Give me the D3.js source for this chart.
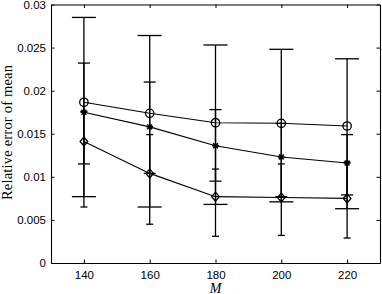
<!DOCTYPE html>
<html lang="en">
<head>
    <meta charset="UTF-8">
    <title>Relative error of mean vs M</title>
    <script src="https://cdnjs.cloudflare.com/ajax/libs/d3/7.8.5/d3.min.js"></script>
    <style>
        body { margin: 0; padding: 0; background: #fff; }
        svg { display: block; }
        .tick text { font-family: "Liberation Sans", Arial, sans-serif; font-size: 11.5px; fill: #000; }
    </style>
</head>
<body>
    <div id="chart"></div>
    <script>
        // x values (M)
        const mValues = [140, 160, 180, 200, 220];
        const xTicks = [140, 160, 180, 200, 220];
        const yTicks = [0, 0.005, 0.01, 0.015, 0.02, 0.025, 0.03];

        // circle series
        const circleMean = [0.01865, 0.01737, 0.01628, 0.01621, 0.0159];
        const circleLow  = [0.0077, 0.0065, 0.0068, 0.0071, 0.0063];
        const circleHigh = [0.0285, 0.0264, 0.0253, 0.0248, 0.0237];

        // asterisk series
        const starMean = [0.0175, 0.0158, 0.0136, 0.0123, 0.0116];
        const starLow  = [0.0115, 0.0104, 0.0095, 0.0077, 0.0079];
        const starHigh = [0.0232, 0.0210, 0.0178, 0.0162, 0.0149];

        // diamond series
        const diamondMean = [0.0141, 0.0104, 0.0077, 0.0076, 0.0075];
        const diamondLow  = [0.0065, 0.0045, 0.0031, 0.0032, 0.0029];
        const diamondHigh = [0.0176, 0.0149, 0.0109, 0.0115, 0.0117];

        const width = 382, height = 294;
        const plotLeft = 51, plotRight = 380, plotTop = 4.5, plotBottom = 263;

        const x = d3.scaleLinear().domain([130, 230]).range([plotLeft, plotRight]);
        const y = d3.scaleLinear().domain([0, 0.03]).range([plotBottom, plotTop]);

        const svg = d3.select("#chart").append("svg")
            .attr("width", width)
            .attr("height", height);

        const fmt = d => d === 0 ? "0" : String(+d.toFixed(3));

        // axes with inward ticks, box on all sides
        svg.append("g")
            .attr("transform", `translate(0,${plotBottom})`)
            .call(d3.axisBottom(x).tickValues(xTicks).tickSizeInner(-3.5).tickSizeOuter(0).tickPadding(8));
        svg.append("g")
            .attr("transform", `translate(0,${plotTop})`)
            .call(d3.axisTop(x).tickValues(xTicks).tickFormat("").tickSizeInner(-3.5).tickSizeOuter(0));
        svg.append("g")
            .attr("transform", `translate(${plotLeft},0)`)
            .call(d3.axisLeft(y).tickValues(yTicks).tickFormat(fmt).tickSizeInner(-3.5).tickSizeOuter(0).tickPadding(5));
        svg.append("g")
            .attr("transform", `translate(${plotRight},0)`)
            .call(d3.axisRight(y).tickValues(yTicks).tickFormat("").tickSizeInner(-3.5).tickSizeOuter(0));

        svg.selectAll(".domain").attr("stroke", "#000").attr("stroke-width", 1.1);
        svg.selectAll(".tick line").attr("stroke", "#000").attr("stroke-width", 1);

        const series = [
            {mean: circleMean, low: circleLow, high: circleHigh, marker: "circle", cap: 12},
            {mean: starMean, low: starLow, high: starHigh, marker: "star", cap: 6},
            {mean: diamondMean, low: diamondLow, high: diamondHigh, marker: "diamond", cap: 3.5}
        ];

        const plot = svg.append("g");

        // error bars
        series.forEach(s => {
            const g = plot.append("g").attr("stroke", "#000").attr("stroke-width", 1.3).attr("fill", "none");
            mValues.forEach((m, i) => {
                const cx = x(m);
                g.append("line").attr("x1", cx).attr("x2", cx).attr("y1", y(s.low[i])).attr("y2", y(s.high[i]));
                [s.low[i], s.high[i]].forEach(v => {
                    g.append("line").attr("x1", cx - s.cap).attr("x2", cx + s.cap).attr("y1", y(v)).attr("y2", y(v));
                });
            });
        });

        // lines and markers
        const line = d3.line().x((d, i) => x(mValues[i])).y(d => y(d));
        series.forEach(s => {
            plot.append("path")
                .attr("d", line(s.mean))
                .attr("fill", "none")
                .attr("stroke", "#000")
                .attr("stroke-width", 1.1);

            const mg = plot.append("g").attr("stroke", "#000").attr("stroke-width", 1.3).attr("fill", "none");
            mValues.forEach((m, i) => {
                const cx = x(m), cy = y(s.mean[i]);
                if (s.marker === "circle") {
                    mg.append("circle").attr("cx", cx).attr("cy", cy).attr("r", 4.2);
                } else if (s.marker === "diamond") {
                    mg.append("path").attr("d", `M${cx},${cy - 4.5}L${cx + 3.8},${cy}L${cx},${cy + 4.5}L${cx - 3.8},${cy}Z`);
                } else {
                    const r = 3.4, d = r * 0.72;
                    mg.append("path").attr("stroke-width", 1.5).attr("d",
                        `M${cx - r},${cy}L${cx + r},${cy}M${cx},${cy - r}L${cx},${cy + r}` +
                        `M${cx - d},${cy - d}L${cx + d},${cy + d}M${cx - d},${cy + d}L${cx + d},${cy - d}`);
                }
            });
        });

        // axis labels
        svg.append("text")
            .attr("transform", `translate(12,${(65 + 200) / 2}) rotate(-90)`)
            .attr("text-anchor", "middle")
            .attr("font-family", "Liberation Serif, Times New Roman, serif")
            .attr("font-size", 14.5)
            .attr("textLength", 135)
            .text("Relative error of mean");

        svg.append("text")
            .attr("x", x(180))
            .attr("y", 292.5)
            .attr("text-anchor", "middle")
            .attr("font-family", "Liberation Serif, Times New Roman, serif")
            .attr("font-style", "italic")
            .attr("font-size", 14)
            .text("M");
    </script>
</body>
</html>
